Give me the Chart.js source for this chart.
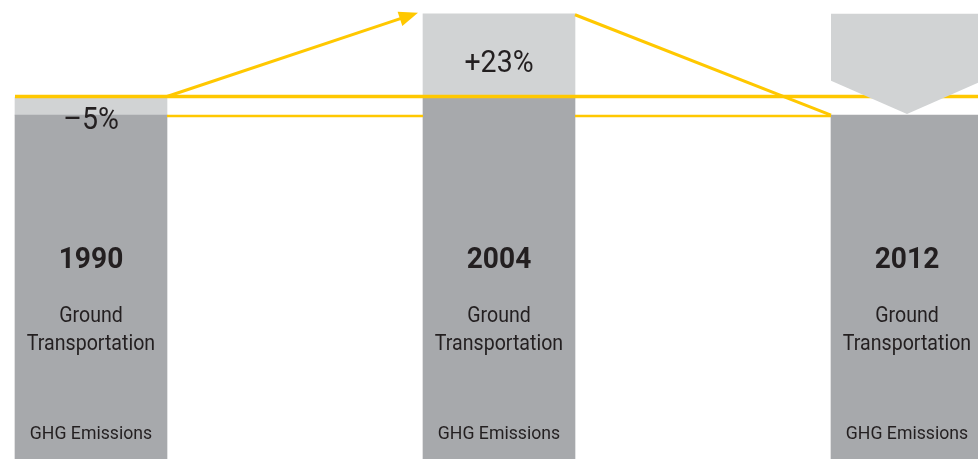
<!DOCTYPE html>
<html>
<head>
<meta charset="utf-8">
<script src="https://cdn.jsdelivr.net/npm/chart.js@4"></script>
<style>
  html, body { margin: 0; padding: 0; background: #ffffff; }
  #wrap { width: 978px; height: 459px; }
</style>
</head>
<body>
<div id="wrap"><canvas id="c" width="978" height="459"></canvas></div>
<script>
// ---- data ----
const years = ['1990', '2004', '2012'];
const baseValues = [95, 100, 95];      // dark grey part (index, 1990 = 100)
const deltaValues = [5, 23, 28];       // light grey part
const pctLabels = ['\u20135%', '+23%', ''];
const line1Label = 'Ground';
const line2Label = 'Transportation';
const footLabel = 'GHG Emissions';
const refLevel = 100;   // 1990 level
const targetLevel = 95; // -5% target

// ---- styles ----
const DARK = '#a7a9ac';
const LIGHT = '#d1d3d4';
const YELLOW = '#ffc800';
const TEXT = '#231f20';
const FONT = 'Roboto, "Open Sans", sans-serif';

function drawText(ctx, txt, x, y, font, sx) {
  ctx.save();
  ctx.font = font;
  ctx.fillStyle = TEXT;
  ctx.textAlign = 'center';
  ctx.textBaseline = 'alphabetic';
  ctx.translate(x, y);
  ctx.scale(sx, 1);
  ctx.fillText(txt, 0, 0);
  ctx.restore();
}

const overlay = {
  id: 'overlay',
  afterDatasetsDraw(chart) {
    const ctx = chart.ctx;
    const yS = chart.scales.y;
    const dark = chart.getDatasetMeta(0).data;
    const light = chart.getDatasetMeta(1).data;
    const L = i => dark[i].x - dark[i].width / 2;
    const R = i => dark[i].x + dark[i].width / 2;
    const yRef = yS.getPixelForValue(refLevel) - 0.5;
    const yTgt = yS.getPixelForValue(targetLevel) + 1;
    const yTop = light[1].y;

    ctx.save();
    ctx.strokeStyle = YELLOW;
    ctx.lineCap = 'butt';

    // upper reference line (1990 level)
    ctx.lineWidth = 3.5;
    ctx.beginPath();
    ctx.moveTo(L(0), yRef);
    ctx.lineTo(R(2), yRef);
    ctx.stroke();

    // lower target line
    ctx.lineWidth = 2.5;
    ctx.beginPath();
    ctx.moveTo(R(0), yTgt); ctx.lineTo(L(1), yTgt);
    ctx.moveTo(R(1), yTgt); ctx.lineTo(L(2), yTgt);
    ctx.stroke();

    // rising arrow
    const x0 = R(0), y0 = yRef;
    const x1 = L(1) - 5, y1 = yTop - 1;
    const ang = Math.atan2(y1 - y0, x1 - x0);
    const head = 19, hw = 7.5;
    const bx = x1 - head * Math.cos(ang), by = y1 - head * Math.sin(ang);
    ctx.lineWidth = 3;
    ctx.beginPath();
    ctx.moveTo(x0, y0);
    ctx.lineTo(bx + 2 * Math.cos(ang), by + 2 * Math.sin(ang));
    ctx.stroke();
    ctx.fillStyle = YELLOW;
    ctx.beginPath();
    ctx.moveTo(x1, y1);
    ctx.lineTo(bx - hw * Math.sin(ang), by + hw * Math.cos(ang));
    ctx.lineTo(bx + hw * Math.sin(ang), by - hw * Math.cos(ang));
    ctx.closePath();
    ctx.fill();

    // falling line
    ctx.lineWidth = 3;
    ctx.beginPath();
    ctx.moveTo(R(1), yTop + 1);
    ctx.lineTo(L(2), yS.getPixelForValue(targetLevel));
    ctx.stroke();
    ctx.restore();

    // chevron for 2012 light part
    const c = light[2];
    const cl = c.x - c.width / 2, cr = c.x + c.width / 2;
    const depth = c.width / 2 * 0.44;
    const tip = c.base - 1;
    ctx.save();
    ctx.fillStyle = LIGHT;
    ctx.beginPath();
    ctx.moveTo(cl, c.y);
    ctx.lineTo(cr, c.y);
    ctx.lineTo(cr, tip - depth);
    ctx.lineTo(c.x, tip);
    ctx.lineTo(cl, tip - depth);
    ctx.closePath();
    ctx.fill();
    ctx.restore();

    // texts
    const bottom = chart.chartArea.bottom;
    const pctOffsets = [32, 58, 0];
    for (let i = 0; i < years.length; i++) {
      const cx = dark[i].x;
      if (pctLabels[i]) {
        drawText(ctx, pctLabels[i], cx, light[i].y + pctOffsets[i], '400 31px ' + FONT, 0.92);
      }
      drawText(ctx, years[i], cx, bottom - 191, '700 29px ' + FONT, 0.97);
      drawText(ctx, line1Label, cx, bottom - 137, '400 22px ' + FONT, 0.89);
      drawText(ctx, line2Label, cx, bottom - 109, '400 22px ' + FONT, 0.89);
      drawText(ctx, footLabel, cx, bottom - 20, '400 19px ' + FONT, 0.93);
    }
  }
};

new Chart(document.getElementById('c'), {
  type: 'bar',
  data: {
    labels: years,
    datasets: [
      { data: baseValues, backgroundColor: DARK, clip: false, barThickness: 152, borderWidth: 0 },
      { data: deltaValues, backgroundColor: [LIGHT, LIGHT, 'rgba(0,0,0,0)'], clip: false, barThickness: 152, borderWidth: 0 }
    ]
  },
  options: {
    responsive: false,
    devicePixelRatio: 1,
    animation: false,
    events: [],
    layout: { padding: { left: 91, right: 71, top: 0, bottom: 0 } },
    plugins: { legend: { display: false }, tooltip: { enabled: false } },
    scales: {
      x: { type: 'category', stacked: true, offset: false, display: false },
      y: { stacked: true, min: 0, max: 126.8, display: false }
    }
  },
  plugins: [overlay]
});
</script>
</body>
</html>
